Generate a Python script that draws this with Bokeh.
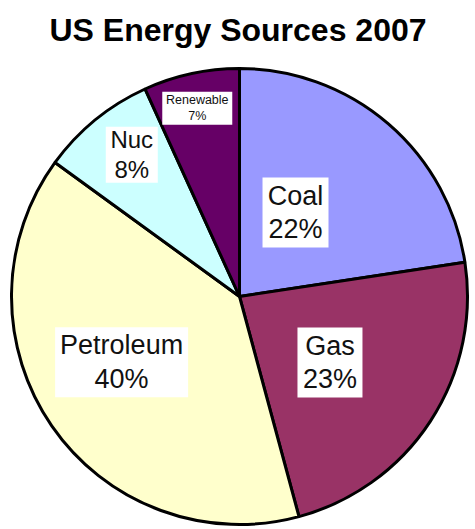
import numpy as np
from bokeh.plotting import figure
from bokeh.models import Range1d, ColumnDataSource
from bokeh.core.properties import value
from bokeh.embed import file_html
from bokeh.resources import INLINE

# ---- data ----
title = "US Energy Sources 2007"
sources = ["Coal", "Gas", "Petroleum", "Nuc", "Renewable"]
shares = [22.6, 23.2, 39.2, 8.2, 6.8]
pct_labels = ["22%", "23%", "40%", "8%", "7%"]

# ---- style ----
colors = ["#9999FF", "#993366", "#FFFFCC", "#CCFFFF", "#660066"]
label_r = [101, 112, 135, 178, 193]
label_dang = [7.0, -3.0, -5.4, -2.0, 0.4]
box_w = [66, 65, 133, 52, 70]
box_h = [70, 70, 70, 56, 33]
font_px = ["27px", "27px", "27px", "24px", "12.5px"]

W, H = 475, 529
cx, cy, R = 239, H - 296, 228

vals = np.array(shares, dtype=float)
frac = vals / vals.sum()
cum = np.cumsum(frac)
prev = np.concatenate([[0], cum[:-1]])
start = np.pi / 2 - 2 * np.pi * prev
end = np.pi / 2 - 2 * np.pi * cum
mid = (start + end) / 2 + np.radians(label_dang)

lx = cx + np.array(label_r) * np.cos(mid)
ly = cy + np.array(label_r) * np.sin(mid)

src = ColumnDataSource(dict(
    start=start, end=end, color=colors,
    lx=lx, ly=ly, bw=box_w, bh=box_h,
    txt=[f"{s}\n{p}" for s, p in zip(sources, pct_labels)],
    fs=font_px,
))

p = figure(width=W, height=H, x_range=Range1d(0, W), y_range=Range1d(0, H),
           output_backend="svg", toolbar_location=None, min_border=0)
p.axis.visible = False
p.grid.visible = False
p.outline_line_color = None
p.background_fill_color = "white"
p.border_fill_color = "white"

p.wedge(x=cx, y=cy, radius=R, start_angle="start", end_angle="end",
        direction="clock", fill_color="color", line_color="black",
        line_width=3, source=src)

p.rect(x="lx", y="ly", width="bw", height="bh", fill_color="white",
       line_color=None, source=src)

p.text(x="lx", y="ly", text="txt", text_align="center", text_baseline="middle",
       text_font=value("Liberation Sans"), text_font_size="fs",
       text_line_height=1.12, text_color="#111111", source=src)

p.text(x=[W / 2], y=[H - 29], text=[title], text_align="center",
       text_baseline="middle", text_font=value("Liberation Sans"),
       text_font_size="32px", text_font_style="bold", text_color="black")

open("out.html", "w").write(file_html(p, INLINE))
